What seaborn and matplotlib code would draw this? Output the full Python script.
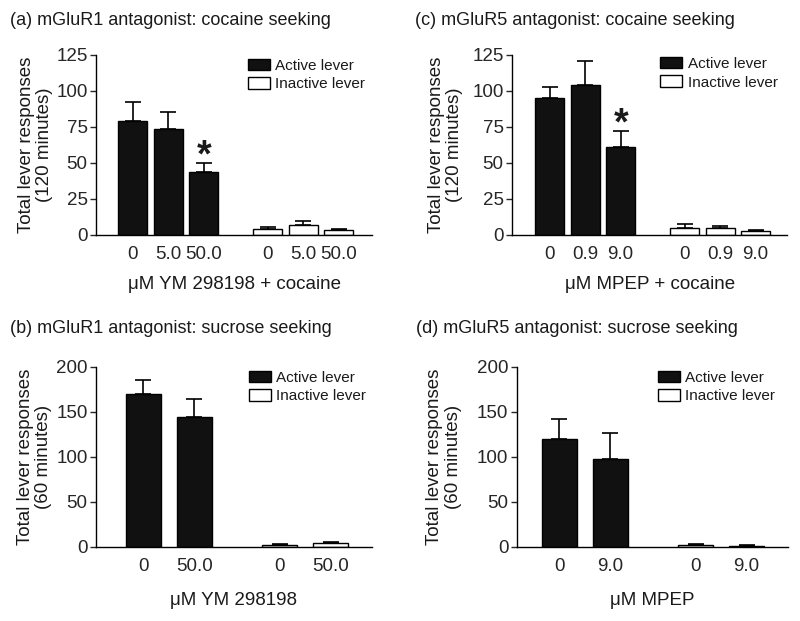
import numpy as np
import pandas as pd
import matplotlib
matplotlib.use("Agg")
import matplotlib.pyplot as plt
from matplotlib.patches import Patch
import seaborn as sns

# (a) mGluR1 antagonist, cocaine seeking
a_doses = ["0", "5.0", "50.0"]
a_active = [79.4, 73.4, 43.8]
a_active_sem = [13.2, 11.8, 6.4]
a_inactive = [4.2, 6.7, 3.2]
a_inactive_sem = [1.4, 3.2, 1.0]

# (b) mGluR1 antagonist, sucrose seeking
b_doses = ["0", "50.0"]
b_active = [170.3, 144.8]
b_active_sem = [15.2, 19.2]
b_inactive = [2.2, 4.1]
b_inactive_sem = [1.5, 1.1]

# (c) mGluR5 antagonist, cocaine seeking
c_doses = ["0", "0.9", "9.0"]
c_active = [94.9, 104.0, 61.3]
c_active_sem = [8.1, 17.0, 11.1]
c_inactive = [5.1, 5.1, 2.8]
c_inactive_sem = [2.3, 1.2, 0.9]

# (d) mGluR5 antagonist, sucrose seeking
d_doses = ["0", "9.0"]
d_active = [120.3, 98.1]
d_active_sem = [21.6, 28.9]
d_inactive = [2.2, 1.5]
d_inactive_sem = [0.8, 0.7]

levers = ["Active lever", "Inactive lever"]
palette = {"Active lever": "#111111", "Inactive lever": "white"}

sns.set_theme(style="ticks")
plt.rcParams["font.family"] = ["Liberation Sans", "DejaVu Sans"]
plt.rcParams["text.color"] = "#1a1a1a"
plt.rcParams["axes.labelcolor"] = "#1a1a1a"


def draw_panel(ax, doses, active, active_sem, inactive, inactive_sem,
               gap, width, ymax, ystep, xlim, ylabel, xlabel, labelpad,
               ylab_x, leg_xy, star=None):
    n = len(doses)
    pos_act = np.arange(n, dtype=float)
    pos_inact = pos_act + (n - 1) + gap
    df = pd.DataFrame({
        "pos": np.concatenate([pos_act, pos_inact]),
        "value": list(active) + list(inactive),
        "sem": list(active_sem) + list(inactive_sem),
        "lever": [levers[0]] * n + [levers[1]] * n,
    })
    sns.barplot(data=df, x="pos", y="value", hue="lever", palette=palette,
                native_scale=True, dodge=False, width=width, saturation=1,
                edgecolor="black", linewidth=1, errorbar=None, legend=False,
                ax=ax)
    ax.errorbar(df["pos"], df["value"],
                yerr=[np.zeros(len(df)), df["sem"]], fmt="none",
                ecolor="black", elinewidth=1.2, capsize=6, capthick=1.2,
                zorder=3)
    if star is not None:
        ax.annotate("*", (df["pos"][star], df["value"][star] + df["sem"][star]),
                    xytext=(0, -3), textcoords="offset points",
                    ha="center", va="baseline", fontsize=27,
                    fontweight="bold")

    ax.set_xlim(*xlim)
    ax.set_ylim(0, ymax)
    ax.set_yticks(np.arange(0, ymax + 1, ystep))
    ax.set_xticks(df["pos"], doses + doses)
    ax.tick_params(axis="x", length=0, pad=8, labelsize=13.5)
    ax.tick_params(axis="y", length=4.5, width=1, pad=1.5, labelsize=13.5)
    sns.despine(ax=ax)
    for side in ["left", "bottom"]:
        ax.spines[side].set_linewidth(1)
        ax.spines[side].set_color("black")

    ax.set_ylabel(ylabel, fontsize=13.5, linespacing=1.1)
    ax.yaxis.set_label_coords(ylab_x, 0.5)
    ax.set_xlabel(xlabel, fontsize=13.5, labelpad=labelpad)

    handles = [Patch(facecolor=palette[l], edgecolor="black", linewidth=1)
               for l in levers]
    ax.legend(handles, levers, loc="upper left", bbox_to_anchor=leg_xy,
              frameon=False, fontsize=11, handlelength=1.45,
              handleheight=0.8, handletextpad=0.35, labelspacing=0.3,
              borderpad=0, borderaxespad=0)


fig = plt.figure(figsize=(8, 6.21), dpi=100)
ax_a = fig.add_axes([0.12, 0.6216, 0.345, 0.2899])
ax_c = fig.add_axes([0.64, 0.6216, 0.344, 0.2899])
ax_b = fig.add_axes([0.12, 0.1192, 0.345, 0.2899])
ax_d = fig.add_axes([0.646, 0.1192, 0.339, 0.2899])

draw_panel(ax_a, a_doses, a_active, a_active_sem, a_inactive, a_inactive_sem,
           gap=1.8, width=0.82, ymax=125, ystep=25, xlim=(-1.04, 6.74),
           ylabel="Total lever responses\n(120 minutes)",
           xlabel="\u03bcM YM 298198 + cocaine", labelpad=9,
           ylab_x=-0.156, leg_xy=(0.55, 0.98), star=2)
draw_panel(ax_c, c_doses, c_active, c_active_sem, c_inactive, c_inactive_sem,
           gap=1.8, width=0.82, ymax=125, ystep=25, xlim=(-1.06, 6.69),
           ylabel="Total lever responses\n(120 minutes)",
           xlabel="\u03bcM MPEP + cocaine", labelpad=9,
           ylab_x=-0.178, leg_xy=(0.538, 0.99), star=2)
draw_panel(ax_b, b_doses, b_active, b_active_sem, b_inactive, b_inactive_sem,
           gap=1.67, width=0.69, ymax=200, ystep=50, xlim=(-0.93, 4.48),
           ylabel="Total lever responses\n(60 minutes)",
           xlabel="\u03bcM YM 298198", labelpad=12,
           ylab_x=-0.159, leg_xy=(0.554, 0.98))
draw_panel(ax_d, d_doses, d_active, d_active_sem, d_inactive, d_inactive_sem,
           gap=1.67, width=0.69, ymax=200, ystep=50, xlim=(-0.83, 4.48),
           ylabel="Total lever responses\n(60 minutes)",
           xlabel="\u03bcM MPEP", labelpad=12,
           ylab_x=-0.203, leg_xy=(0.52, 0.98))

titles = [
    (10, 25, "(a) mGluR1 antagonist: cocaine seeking"),
    (415, 25, "(c) mGluR5 antagonist: cocaine seeking"),
    (10, 333, "(b) mGluR1 antagonist: sucrose seeking"),
    (416, 333, "(d) mGluR5 antagonist: sucrose seeking"),
]
for x, y, t in titles:
    fig.text(x / 800, 1 - y / 621, t, fontsize=13, ha="left", va="baseline")

fig.savefig("out.png", dpi=100, facecolor="white")
